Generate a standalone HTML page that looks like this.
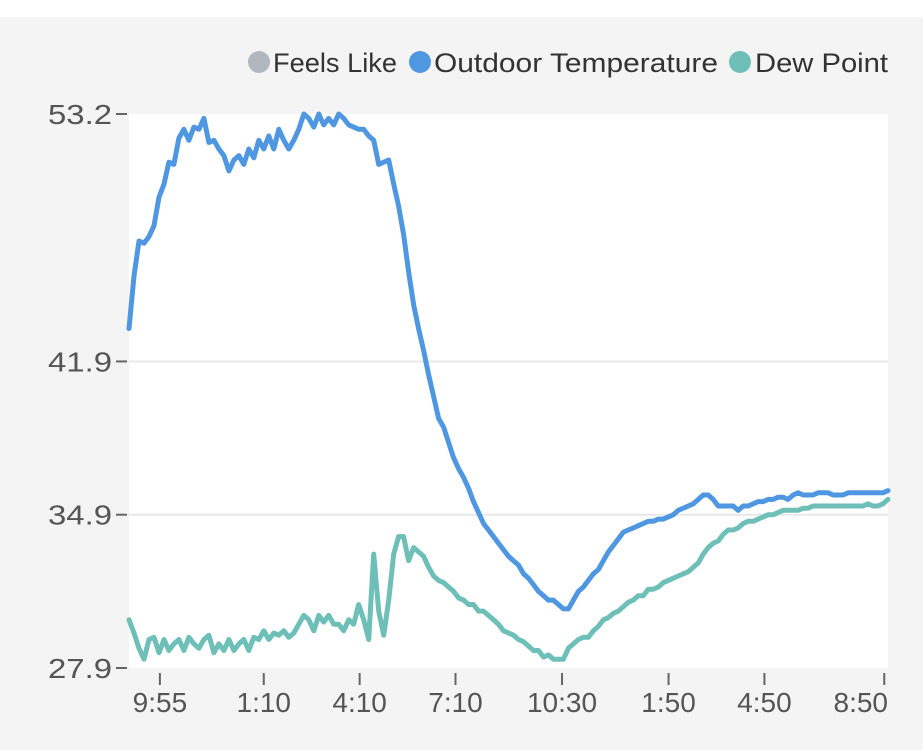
<!DOCTYPE html>
<html><head><meta charset="utf-8">
<style>
html,body{margin:0;padding:0;background:#f4f4f4;}
svg{display:block;font-family:"Liberation Sans",sans-serif;}
</style></head>
<body>
<svg id="chart" width="923" height="750" viewBox="0 0 923 750">
  <rect x="0" y="0" width="923" height="17" fill="#ffffff"/>
  <rect x="129" y="114" width="759" height="554" fill="#ffffff"/>
  <g id="grid"></g>
  <g id="axes"></g>
  <g id="series"></g>
  <g font-size="27" fill="#333">
    <g>
      <circle cx="259" cy="62" r="11" fill="#b0b7bf"/>
      <text x="273" y="72" textLength="124" lengthAdjust="spacingAndGlyphs">Feels Like</text>
    </g>
    <g>
      <circle cx="420" cy="62" r="11" fill="#4f97e0"/>
      <text x="434" y="72" textLength="284" lengthAdjust="spacingAndGlyphs">Outdoor Temperature</text>
    </g>
    <g>
      <circle cx="740" cy="62" r="11" fill="#6dbfb8"/>
      <text x="755" y="72" textLength="133" lengthAdjust="spacingAndGlyphs">Dew Point</text>
    </g>
  </g>
</svg>
<script>
const yTicks = [53.2, 41.9, 34.9, 27.9];
const xTickMinutes = [58, 253, 433, 613, 813, 1013, 1193, 1418];
const xTickLabels = ["9:55", "1:10", "4:10", "7:10", "10:30", "1:50", "4:50", "8:50"];
const sampleMinutes = 9.375;
const outdoorTemp = [43.4,45.8,47.4,47.3,47.6,48.1,49.4,50.0,51.0,50.9,52.1,52.5,52.0,52.6,52.5,53.0,51.9,52.0,51.6,51.3,50.6,51.1,51.3,50.9,51.6,51.2,52.0,51.6,52.2,51.6,52.5,52.0,51.6,52.0,52.5,53.2,53.0,52.6,53.2,52.7,53.0,52.7,53.2,53.0,52.7,52.6,52.5,52.5,52.2,52.0,50.9,51.0,51.1,50.0,49.0,47.7,46.0,44.5,43.4,42.4,41.3,40.3,39.3,38.9,38.2,37.5,37.0,36.6,36.1,35.5,35.0,34.5,34.2,33.9,33.6,33.3,33.0,32.8,32.6,32.2,32.0,31.7,31.4,31.2,31.0,31.0,30.8,30.6,30.6,31.0,31.4,31.6,31.9,32.2,32.4,32.8,33.2,33.5,33.8,34.1,34.2,34.3,34.4,34.5,34.6,34.6,34.7,34.7,34.8,34.9,35.1,35.2,35.3,35.4,35.6,35.8,35.8,35.6,35.3,35.3,35.3,35.3,35.1,35.3,35.3,35.4,35.5,35.5,35.6,35.6,35.7,35.7,35.6,35.8,35.9,35.8,35.8,35.8,35.9,35.9,35.9,35.8,35.8,35.8,35.9,35.9,35.9,35.9,35.9,35.9,35.9,35.9,36.0];
const dewPoint = [30.1,29.5,28.8,28.3,29.2,29.3,28.6,29.2,28.7,29.0,29.2,28.7,29.3,29.0,28.8,29.2,29.4,28.6,29.0,28.7,29.2,28.7,29.0,29.2,28.7,29.3,29.2,29.6,29.2,29.5,29.4,29.6,29.3,29.5,29.9,30.3,30.1,29.6,30.3,30.0,30.3,29.9,29.9,29.6,30.1,29.9,30.8,30.1,29.2,33.1,30.5,29.4,31.0,33.1,33.9,33.9,32.8,33.4,33.2,33.0,32.5,32.1,31.9,31.8,31.6,31.4,31.1,31.0,30.8,30.8,30.5,30.5,30.3,30.1,29.9,29.6,29.5,29.4,29.2,29.1,28.9,28.7,28.7,28.4,28.5,28.3,28.3,28.3,28.8,29.0,29.2,29.3,29.3,29.6,29.8,30.1,30.2,30.4,30.5,30.7,30.9,31.0,31.2,31.2,31.5,31.5,31.6,31.8,31.9,32.0,32.1,32.2,32.3,32.5,32.7,33.1,33.4,33.6,33.7,34.0,34.2,34.2,34.3,34.5,34.6,34.6,34.7,34.8,34.9,34.9,35.0,35.1,35.1,35.1,35.1,35.2,35.2,35.3,35.3,35.3,35.3,35.3,35.3,35.3,35.3,35.3,35.3,35.3,35.4,35.3,35.3,35.4,35.6];

const NS = "http://www.w3.org/2000/svg";
const L = 129, R = 888, T = 114, B = 668;
const xMax = 152 * sampleMinutes;
function xScale(m) { return L + (m / xMax) * (R - L); }
function yScale(v) { return T + (53.2 - v) / (53.2 - 27.9) * (B - T); }
function mk(tag, attrs, parent) {
  const e = document.createElementNS(NS, tag);
  for (const k in attrs) e.setAttribute(k, attrs[k]);
  parent.appendChild(e);
  return e;
}
const grid = document.getElementById('grid');
const axes = document.getElementById('axes');
const series = document.getElementById('series');

yTicks.forEach(v => {
  const y = yScale(v);
  if (v !== 53.2 && v !== 27.9) {
    const g = mk('line', {x1: L, x2: R, y1: y, y2: y, stroke: '#e8e8e8', 'stroke-width': 2}, grid);
    
    
  }
  const t = mk('line', {x1: 116, x2: 127, y1: y, y2: y, stroke: '#666', 'stroke-width': 2}, axes);
  
  
  const lb = mk('text', {x: 48, y: y + 10, 'font-size': 28, fill: '#555', textLength: 64, lengthAdjust: 'spacingAndGlyphs'}, axes);
  
  
  lb.textContent = v.toFixed(1);
});
xTickMinutes.forEach((m, i) => {
  const x = xScale(m);
  const t = mk('line', {x1: x, x2: x, y1: 673, y2: 685, stroke: '#666', 'stroke-width': 2}, axes);
  
  
  const last = i === xTickMinutes.length - 1;
  const lb = mk('text', {x: last ? 888 : x, y: 712, 'text-anchor': last ? 'end' : 'middle', 'font-size': 28, fill: '#555'}, axes);
  
  
  lb.textContent = xTickLabels[i];
});
function drawLine(arr, color, name) {
  const d = arr.map((v, i) => (i ? 'L' : 'M') + xScale(i * sampleMinutes).toFixed(1) + ',' + yScale(v).toFixed(1)).join('');
  const p = mk('path', {d: d, fill: 'none', stroke: color, 'stroke-width': 5, 'stroke-linejoin': 'round', 'stroke-linecap': 'round'}, series);
  
  
}
drawLine(dewPoint, '#6dbfb8', 'dew-point-line');
drawLine(outdoorTemp, '#4f97e0', 'outdoor-temperature-line');
</script>
</body></html>
